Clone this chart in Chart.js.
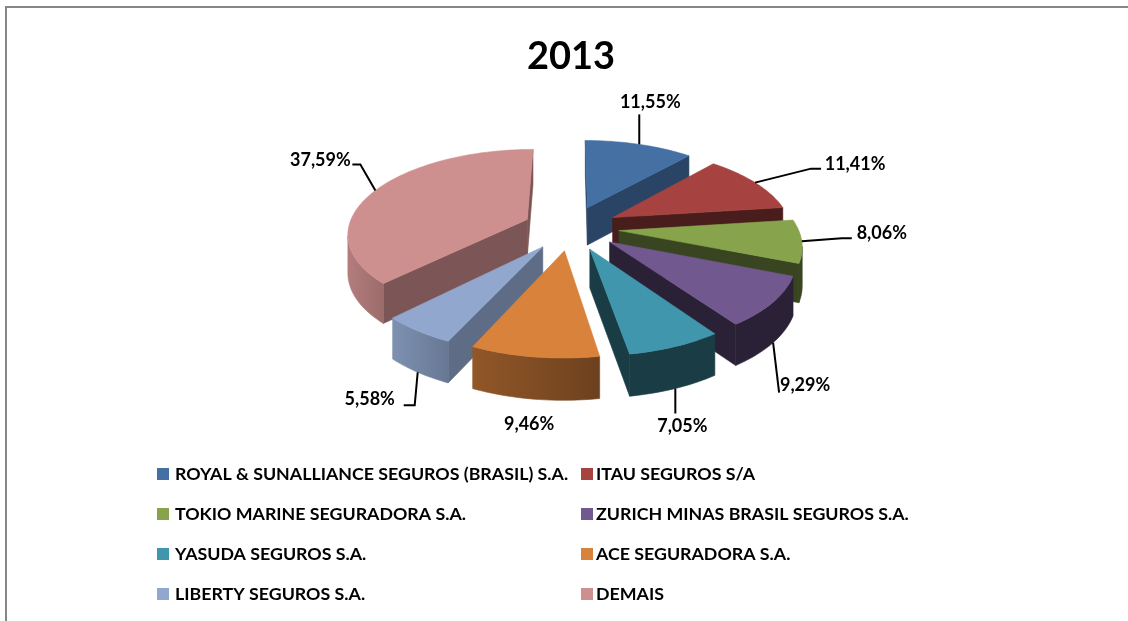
<!DOCTYPE html>
<html>
<head>
<meta charset="utf-8">
<script src="https://cdn.jsdelivr.net/npm/chart.js@4"></script>
<style>
html, body { margin: 0; padding: 0; background: #fff; overflow: hidden; }
#frame { position: absolute; left: 5px; top: 6px; width: 1200px; height: 700px; border-left: 2px solid #868686; border-top: 2px solid #868686; }
#box { position: relative; width: 1128px; height: 614px; }
</style>
</head>
<body>
<div id="frame"><div id="box"><canvas id="myChart"></canvas></div></div>
<script>
const titleText = '2013';
const categories = [
    'ROYAL & SUNALLIANCE SEGUROS (BRASIL) S.A.',
    'ITAU SEGUROS S/A',
    'TOKIO MARINE SEGURADORA S.A.',
    'ZURICH MINAS BRASIL SEGUROS S.A.',
    'YASUDA SEGUROS S.A.',
    'ACE SEGURADORA S.A.',
    'LIBERTY SEGUROS S.A.',
    'DEMAIS'
];
const shares = [11.55, 11.41, 8.06, 9.29, 7.05, 9.46, 5.58, 37.59];
const valueLabels = ['11,55%', '11,41%', '8,06%', '9,29%', '7,05%', '9,46%', '5,58%', '37,59%'];

const colors = ['#4470A4', '#A64340', '#87A34C', '#71588F', '#3F96AD', '#D9823B', '#91A7CD', '#CE908F'];
// brightness of the cut faces and of the round wall (left and right end)
const cutShade = [0.61, 0.44, 0.42, 0.38, 0.4, 0.72, 0.65, 0.6];
const wallLeft = [0.61, 0.44, 0.42, 0.38, 0.4, 0.67, 0.87, 0.87];
const wallRight = [0.61, 0.44, 0.42, 0.38, 0.4, 0.5, 0.72, 0.75];

// 3d look of the pie
const tilt = 0.464;
const persp = 0.00085;
const depth = 38;

// leader lines, offsets from the slice edge: elbow, end, then where the text goes
const leaders = [
    { wall: false, elbow: [0, -30], end: [0, -30], text: [11, -42] },
    { wall: false, elbow: [56, -14], end: [66, -14], text: [100, -18] },
    { wall: false, elbow: [40, -3], end: [50, -3], text: [80, -8] },
    { wall: true, elbow: [6, 50], end: [6, 50], text: [32, 43] },
    { wall: true, elbow: [0, 25], end: [0, 25], text: [7, 38] },
    { wall: true, none: true, text: [-5, 25] },
    { wall: true, elbow: [-3, 33], end: [-14, 33], text: [-48, 27] },
    { wall: false, elbow: [-15, -26], end: [-23, -26], text: [-55, -30] }
];

function shade(hex, f) {
    const n = parseInt(hex.slice(1), 16);
    const r = Math.round((n >> 16) * f);
    const g = Math.round(((n >> 8) & 255) * f);
    const b = Math.round((n & 255) * f);
    return `rgb(${r},${g},${b})`;
}

function project(arc, X, Y, z) {
    const k = 1 / (1 - persp * Y);
    return [arc.x + X * k, arc.y + Y * tilt * k + z * Math.sqrt(k)];
}

function fillPoly(ctx, pts, color) {
    ctx.beginPath();
    pts.forEach((p, i) => (i ? ctx.lineTo(p[0], p[1]) : ctx.moveTo(p[0], p[1])));
    ctx.closePath();
    ctx.fillStyle = color;
    ctx.strokeStyle = color;
    ctx.lineWidth = 0.6;
    ctx.fill();
    ctx.stroke();
}

function midPoint(arc, z) {
    const mid = (arc.startAngle + arc.endAngle) / 2;
    const r = arc.outerRadius + arc.options.offset;
    return project(arc, Math.cos(mid) * r, Math.sin(mid) * r, z);
}

function drawSlice(ctx, arc, i) {
    const mid = (arc.startAngle + arc.endAngle) / 2;
    const ox = Math.cos(mid) * arc.options.offset;
    const oy = Math.sin(mid) * arc.options.offset;
    const r = arc.outerRadius;

    // outline walked clockwise: tip, round edge, back to tip
    const outline = [[ox, oy]];
    const steps = Math.ceil((arc.endAngle - arc.startAngle) * 40);
    for (let s = 0; s <= steps; s++) {
        const a = arc.startAngle + (arc.endAngle - arc.startAngle) * s / steps;
        outline.push([ox + Math.cos(a) * r, oy + Math.sin(a) * r]);
    }
    outline.push([ox, oy]);

    const top = outline.map(p => project(arc, p[0], p[1], 0));
    const bottom = outline.map(p => project(arc, p[0], p[1], depth));
    const last = top.length - 2;

    // faces walking right to left on screen look at the viewer
    const faces = s => top[s + 1][0] < top[s][0];

    if (faces(0)) fillPoly(ctx, [top[0], top[1], bottom[1], bottom[0]], shade(colors[i], cutShade[i]));
    if (faces(last)) fillPoly(ctx, [top[last], top[last + 1], bottom[last + 1], bottom[last]], shade(colors[i], cutShade[i]));

    // the round wall as one piece, lighter on its left side
    let from = -1;
    let to = -1;
    for (let s = 1; s < last; s++) {
        if (faces(s)) {
            if (from < 0) from = s;
            to = s + 1;
        }
    }
    if (from >= 0) {
        const wallTop = top.slice(from, to + 1);
        const wallBottom = bottom.slice(from, to + 1).reverse();
        const grad = ctx.createLinearGradient(top[to][0], 0, top[from][0], 0);
        grad.addColorStop(0, shade(colors[i], wallLeft[i]));
        grad.addColorStop(1, shade(colors[i], wallRight[i]));
        fillPoly(ctx, wallTop.concat(wallBottom), grad);
    }
    fillPoly(ctx, top, colors[i]);
}

const fakePie3d = {
    id: 'fakePie3d',
    beforeDatasetsDraw(chart) {
        const ctx = chart.ctx;
        const arcs = chart.getDatasetMeta(0).data;
        const order = arcs.map((arc, i) => i).sort((a, b) => {
            const midA = (arcs[a].startAngle + arcs[a].endAngle) / 2;
            const midB = (arcs[b].startAngle + arcs[b].endAngle) / 2;
            return Math.sin(midA) - Math.sin(midB);
        });
        ctx.save();
        order.forEach(i => drawSlice(ctx, arcs[i], i));

        // leader lines and value labels
        ctx.font = 'bold 18px Lato';
        ctx.textAlign = 'center';
        ctx.textBaseline = 'middle';
        arcs.forEach((arc, i) => {
            const lead = leaders[i];
            const start = midPoint(arc, lead.wall ? depth : 0);
            if (!lead.none) {
                ctx.beginPath();
                ctx.moveTo(start[0], start[1]);
                ctx.lineTo(start[0] + lead.elbow[0], start[1] + lead.elbow[1]);
                ctx.lineTo(start[0] + lead.end[0], start[1] + lead.end[1]);
                ctx.strokeStyle = '#000';
                ctx.lineWidth = 2;
                ctx.stroke();
            }
            ctx.fillStyle = '#000';
            ctx.fillText(valueLabels[i], start[0] + lead.text[0], start[1] + lead.text[1]);
        });
        ctx.restore();
        return false;
    },
    afterDraw(chart) {
        // two column legend, filled row by row
        const ctx = chart.ctx;
        ctx.save();
        ctx.font = 'bold 17.8px Lato';
        ctx.textAlign = 'left';
        ctx.textBaseline = 'middle';
        categories.forEach((name, i) => {
            const x = i % 2 ? 574 : 150;
            const y = 466 + Math.floor(i / 2) * 40;
            ctx.fillStyle = colors[i];
            ctx.fillRect(x, y - 6, 12, 12);
            ctx.fillStyle = '#000';
            ctx.fillText(name, x + (i % 2 ? 15 : 18), y);
        });
        ctx.restore();
    }
};

const ctx = document.getElementById('myChart').getContext('2d');
new Chart(ctx, {
    type: 'pie',
    plugins: [fakePie3d],
    data: {
        labels: categories,
        datasets: [{
            data: shares,
            backgroundColor: colors,
            offset: 48,
            borderWidth: 0
        }]
    },
    options: {
        responsive: true,
        maintainAspectRatio: false,
        animation: false,
        radius: 179,
        layout: { padding: { bottom: 246 } },
        plugins: {
            title: {
                display: true,
                text: titleText,
                color: '#000',
                font: { family: 'Lato', size: 38, weight: 'bold' },
                padding: { top: 26, bottom: 0 }
            },
            legend: { display: false },
            tooltip: { enabled: false }
        }
    }
});
</script>
</body>
</html>
